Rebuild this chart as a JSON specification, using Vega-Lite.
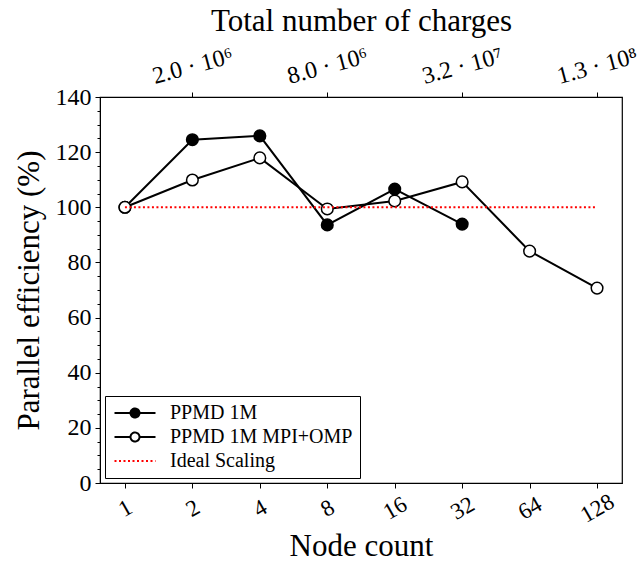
{
  "$schema": "https://vega.github.io/schema/vega-lite/v6.json",
  "autosize": "none",
  "width": 522,
  "height": 386,
  "padding": {"left": 100, "top": 97, "right": 18, "bottom": 83},
  "background": "white",
  "config": {
    "view": {"stroke": "black", "strokeWidth": 1.2},
    "font": "Liberation Serif",
    "axis": {
      "labelFont": "Liberation Serif",
      "titleFont": "Liberation Serif",
      "labelColor": "black",
      "titleColor": "black",
      "domainColor": "black",
      "tickColor": "black",
      "titleFontWeight": "normal",
      "grid": false
    }
  },
  "data": {
    "values": [
      {"nodes": 1, "eff": 100, "series": "PPMD 1M"},
      {"nodes": 2, "eff": 124.5, "series": "PPMD 1M"},
      {"nodes": 4, "eff": 125.9, "series": "PPMD 1M"},
      {"nodes": 8, "eff": 93.6, "series": "PPMD 1M"},
      {"nodes": 16, "eff": 106.6, "series": "PPMD 1M"},
      {"nodes": 32, "eff": 93.9, "series": "PPMD 1M"},
      {"nodes": 1, "eff": 100, "series": "PPMD 1M MPI+OMP"},
      {"nodes": 2, "eff": 109.9, "series": "PPMD 1M MPI+OMP"},
      {"nodes": 4, "eff": 117.9, "series": "PPMD 1M MPI+OMP"},
      {"nodes": 8, "eff": 99.4, "series": "PPMD 1M MPI+OMP"},
      {"nodes": 16, "eff": 102.3, "series": "PPMD 1M MPI+OMP"},
      {"nodes": 32, "eff": 109.2, "series": "PPMD 1M MPI+OMP"},
      {"nodes": 64, "eff": 84.1, "series": "PPMD 1M MPI+OMP"},
      {"nodes": 128, "eff": 70.7, "series": "PPMD 1M MPI+OMP"},
      {"nodes": 1, "eff": 100, "series": "Ideal Scaling"},
      {"nodes": 128, "eff": 100, "series": "Ideal Scaling"}
    ]
  },
  "resolve": {"axis": {"x": "independent", "y": "independent"}},
  "layer": [
    {
      "transform": [{"filter": "datum.series !== 'Ideal Scaling'"}],
      "mark": {"type": "line", "strokeWidth": 2},
      "encoding": {
        "x": {
          "field": "nodes", "type": "quantitative",
          "scale": {"type": "log", "base": 2, "domain": [0.774, 165.4], "nice": false, "zero": false},
          "axis": {
            "orient": "bottom", "values": [1, 2, 4, 8, 16, 32, 64, 128],
            "title": "Node count", "titleFontSize": 31, "titlePadding": 4,
            "labelFontSize": 23, "labelAngle": -30, "labelAlign": "center", "labelBaseline": "middle",
            "labelPadding": 20, "tickSize": 5, "labelFlush": false, "labelOverlap": false
          }
        },
        "y": {
          "field": "eff", "type": "quantitative",
          "scale": {"domain": [0, 140], "nice": false},
          "axis": {
            "orient": "left", "values": [0, 20, 40, 60, 80, 100, 120, 140],
            "title": "Parallel efficiency (%)", "titleFontSize": 31, "titlePadding": 10,
            "labelFontSize": 24, "tickSize": 5, "labelPadding": 4
          }
        },
        "color": {
          "field": "series", "type": "nominal",
          "scale": {"domain": ["PPMD 1M", "PPMD 1M MPI+OMP", "Ideal Scaling"], "range": ["black", "black", "red"]},
          "legend": {
            "title": null, "orient": "bottom-left", "offset": 5,
            "strokeColor": "black", "fillColor": "white", "padding": 7, "cornerRadius": 0,
            "labelFont": "Liberation Serif", "labelFontSize": 20, "labelColor": "black", "labelLimit": 400,
            "symbolSize": 100, "symbolStrokeWidth": 2, "labelOffset": 38, "rowPadding": 4,
            "encode": {
              "symbols": {
                "update": {
                  "shape": {"signal": "datum.value === 'Ideal Scaling' ? 'M-1.5,0H6.7' : 'M-1.5,0H1.7M3.5,0H6.7M1.7,0A0.9,0.9,0,1,1,3.5,0A0.9,0.9,0,1,1,1.7,0Z'"},
                  "fill": {"signal": "datum.value === 'PPMD 1M' ? 'black' : (datum.value === 'Ideal Scaling' ? 'transparent' : 'white')"},
                  "strokeDash": {"signal": "datum.value === 'Ideal Scaling' ? [2, 2.5] : [1, 0]"},
                  "opacity": {"value": 1}
                }
              }
            }
          }
        }
      }
    },
    {
      "transform": [{"filter": "datum.series !== 'Ideal Scaling'"}],
      "mark": {"type": "point", "shape": "circle", "size": 135, "strokeWidth": 1.5, "stroke": "black", "opacity": 1},
      "encoding": {
        "x": {"field": "nodes", "type": "quantitative", "axis": null},
        "y": {
          "field": "eff", "type": "quantitative",
          "axis": {
            "orient": "left", "values": [5, 10, 15, 25, 30, 35, 45, 50, 55, 65, 70, 75, 85, 90, 95, 105, 110, 115, 125, 130, 135],
            "labels": false, "domain": false, "tickSize": 3, "title": null
          }
        },
        "fill": {"condition": {"test": "datum.series === 'PPMD 1M'", "value": "black"}, "value": "white"}
      }
    },
    {
      "transform": [{"filter": "datum.series === 'Ideal Scaling'"}],
      "mark": {"type": "line", "strokeWidth": 2, "strokeDash": [2, 2.5]},
      "encoding": {
        "x": {
          "field": "nodes", "type": "quantitative",
          "axis": {
            "orient": "top", "values": [2, 8, 32, 128],
            "labelExpr": "datum.value == 2 ? '2.0 · 10⁶' : datum.value == 8 ? '8.0 · 10⁶' : datum.value == 32 ? '3.2 · 10⁷' : '1.3 · 10⁸'",
            "title": "Total number of charges", "titleFontSize": 31, "titlePadding": 6,
            "labelFontSize": 24, "labelAngle": -15, "labelAlign": "center", "labelBaseline": "middle",
            "labelPadding": 26, "tickSize": 5, "labelFlush": false, "labelOverlap": false
          }
        },
        "y": {"field": "eff", "type": "quantitative", "axis": null},
        "color": {"field": "series", "type": "nominal"}
      }
    }
  ]
}
